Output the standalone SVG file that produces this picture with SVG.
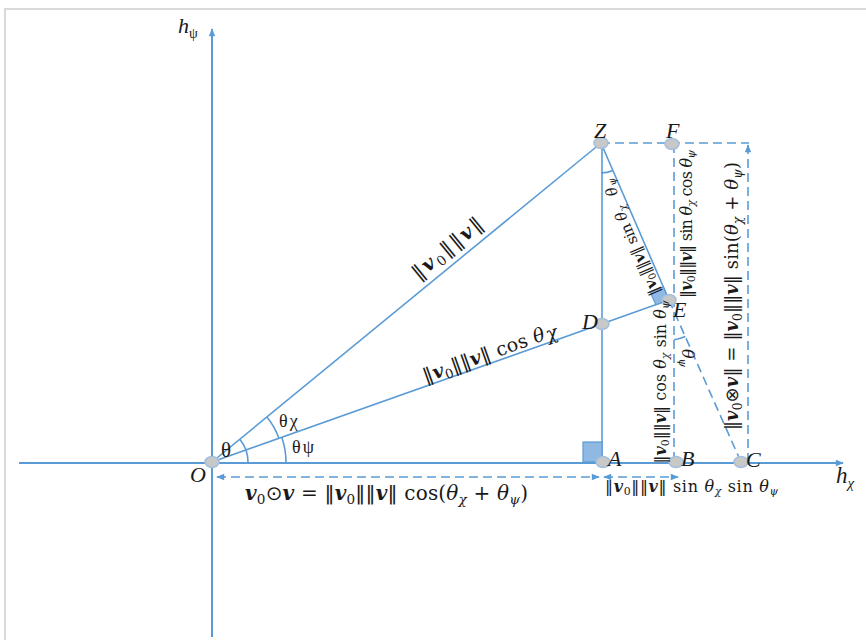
<svg xmlns="http://www.w3.org/2000/svg" width="866" height="640" viewBox="0 0 866 640">
<style>
.ln{stroke:#5b9bd5;stroke-width:1.6;fill:none}
.ax{stroke:#5b9bd5;stroke-width:2;fill:none}
.ds{stroke:#5b9bd5;stroke-width:1.6;fill:none;stroke-dasharray:9 5}
.pt{fill:#c8c8c8;stroke:#a3bfdd;stroke-width:1.5}
.ra{fill:#8fb9e3;stroke:#5b9bd5;stroke-width:1.2}
text{font-family:"Liberation Serif","DejaVu Serif",serif;fill:#1a1a1a}
.fm{font-family:"DejaVu Serif","Liberation Serif",serif}
.lb{font-style:italic;font-size:22px}
.bv{font-weight:bold;font-style:italic}
.it{font-style:italic}
.sb{font-size:68%}
.n{font-family:"DejaVu Sans",sans-serif;font-weight:normal;font-style:normal}
.frame{stroke:#d9d9d9;stroke-width:2;fill:none}
</style>
<defs>
<marker id="ah" viewBox="0 0 10 10" refX="9" refY="5" markerWidth="9" markerHeight="8" orient="auto-start-reverse" markerUnits="userSpaceOnUse"><path d="M0,1 L10,5 L0,9 z" fill="#5b9bd5"/></marker>
</defs>
<rect width="866" height="640" fill="#fff"/>
<path class="frame" d="M5,640 V9 H866"/>

<g id="connectors">
<line class="ax" x1="212" y1="637" x2="212" y2="29" marker-end="url(#ah)"/>
<line class="ax" x1="19" y1="463" x2="843" y2="463" marker-end="url(#ah)"/>
<line class="ln" x1="212" y1="462" x2="601" y2="143"/>
<line class="ln" x1="212" y1="462" x2="669" y2="300"/>
<line class="ln" x1="602" y1="143" x2="602" y2="462"/>
<line class="ln" x1="601" y1="143" x2="669" y2="300"/>
<line class="ds" x1="669" y1="300" x2="741" y2="462"/>
<line class="ds" x1="601" y1="143" x2="749" y2="143"/>
<line class="ds" x1="674" y1="144" x2="674" y2="462"/>
<line class="ds" x1="748" y1="462" x2="748" y2="145" marker-end="url(#ah)"/>
<line class="ds" x1="217" y1="477" x2="599" y2="477" marker-start="url(#ah)" marker-end="url(#ah)"/>
<line class="ds" x1="604" y1="477" x2="678" y2="477" marker-start="url(#ah)" marker-end="url(#ah)"/>
<rect class="ra" x="583" y="442" width="19" height="20"/>
<polygon class="ra" points="669,300 663.4,287.1 650.2,291.8 655.8,304.7"/>
<path class="ln" d="M248,462 A36,36 0 0 0 239.8,439.2"/>
<path class="ln" d="M278.9,438.2 A71,71 0 0 0 266.9,417"/>
<path class="ln" d="M286,462 A74,74 0 0 0 281.7,437.2"/>
<path class="ln" d="M601,173 A30,30 0 0 0 612.9,170.5"/>
<path class="ln" d="M674,339.7 A40,40 0 0 0 685.3,336.5"/>
</g>

<g id="labels-axes">
<text x="178" y="33" font-size="22" class="it">h<tspan font-size="14" dy="5" font-style="normal">ψ</tspan></text>
<text x="836" y="483" font-size="23" class="it">h<tspan font-size="15" dy="5">χ</tspan></text>
</g>

<g id="node-O"><ellipse class="pt" cx="212" cy="462" rx="7" ry="5.5"/><text class="lb" x="190" y="482">O</text></g>
<g id="node-Z"><ellipse class="pt" cx="601" cy="143" rx="7" ry="5.5"/><text class="lb" x="594" y="138">Z</text></g>
<g id="node-F"><ellipse class="pt" cx="672" cy="144" rx="7" ry="5.5"/><text class="lb" x="666" y="138">F</text></g>
<g id="node-E"><ellipse class="pt" cx="669" cy="300" rx="7" ry="5.5"/><text class="lb" x="673" y="317">E</text></g>
<g id="node-D"><ellipse class="pt" cx="602" cy="324" rx="7" ry="5.5"/><text class="lb" x="582" y="329">D</text></g>
<g id="node-A"><ellipse class="pt" cx="603" cy="462" rx="7" ry="5.5"/><text class="lb" x="608" y="466">A</text></g>
<g id="node-B"><ellipse class="pt" cx="676" cy="462" rx="7" ry="5.5"/><text class="lb" x="681" y="466">B</text></g>
<g id="node-C"><ellipse class="pt" cx="741" cy="462" rx="7" ry="5.5"/><text class="lb" x="746" y="467">C</text></g>

<g id="angle-labels">
<text x="221" y="457" font-size="21">θ</text>
<text x="279" y="427" font-size="18">θ<tspan dx="2">χ</tspan></text>
<text x="292" y="453" font-size="18">θ<tspan dx="2">ψ</tspan></text>
<text class="fm" transform="translate(614.8,186) rotate(-113.4)" text-anchor="middle" font-size="15" font-style="italic">θ<tspan class="sb" dy="3">ψ</tspan></text>
<text class="fm" transform="translate(682,358) rotate(90)" text-anchor="middle" font-size="16" font-style="italic">θ<tspan class="sb" dy="3">ψ</tspan></text>
</g>

<g id="length-labels">
<text class="fm" transform="translate(451.5,253.5) rotate(-39.4)" text-anchor="middle" font-size="20" textLength="85"><tspan class="n">‖</tspan><tspan class="bv">v</tspan><tspan class="sb" dy="4">0</tspan><tspan class="n" dy="-4">‖‖</tspan><tspan class="bv">v</tspan><tspan class="n">‖</tspan></text>
<text class="fm" transform="translate(492,359) rotate(-19.57)" text-anchor="middle" font-size="19" textLength="141"><tspan class="n">‖</tspan><tspan class="bv">v</tspan><tspan class="sb" dy="4">0</tspan><tspan class="n" dy="-4">‖‖</tspan><tspan class="bv">v</tspan><tspan class="n">‖</tspan> cos <tspan class="it">θ</tspan><tspan class="it" dx="1" dy="2">χ</tspan></text>
<text class="fm" transform="translate(641,249) rotate(-113.4)" text-anchor="middle" font-size="15" textLength="96"><tspan class="n">‖</tspan><tspan class="bv">v</tspan><tspan class="sb" dy="3">0</tspan><tspan class="n" dy="-3">‖‖</tspan><tspan class="bv">v</tspan><tspan class="n">‖</tspan> sin <tspan class="it">θ</tspan><tspan class="it sb" dy="3">χ</tspan></text>
<text class="fm" transform="translate(692,224) rotate(-90)" text-anchor="middle" font-size="16" textLength="148"><tspan class="n">‖</tspan><tspan class="bv">v</tspan><tspan class="sb" dy="3">0</tspan><tspan class="n" dy="-3">‖‖</tspan><tspan class="bv">v</tspan><tspan class="n">‖</tspan> sin <tspan class="it">θ</tspan><tspan class="it sb" dy="3">χ</tspan><tspan dy="-3"> cos </tspan><tspan class="it">θ</tspan><tspan class="it sb" dy="3">ψ</tspan></text>
<text class="fm" transform="translate(666,382) rotate(-90)" text-anchor="middle" font-size="16" textLength="163"><tspan class="n">‖</tspan><tspan class="bv">v</tspan><tspan class="sb" dy="3">0</tspan><tspan class="n" dy="-3">‖‖</tspan><tspan class="bv">v</tspan><tspan class="n">‖</tspan> cos <tspan class="it">θ</tspan><tspan class="it sb" dy="3">χ</tspan><tspan dy="-3"> sin </tspan><tspan class="it">θ</tspan><tspan class="it sb" dy="3">ψ</tspan></text>
<text class="fm" transform="translate(738,296) rotate(-90)" text-anchor="middle" font-size="18" textLength="268"><tspan class="n">‖</tspan><tspan class="bv">v</tspan><tspan class="sb" dy="4">0</tspan><tspan class="n" dy="-4">⊗</tspan><tspan class="bv">v</tspan><tspan class="n">‖</tspan> = <tspan class="n">‖</tspan><tspan class="bv">v</tspan><tspan class="sb" dy="4">0</tspan><tspan class="n" dy="-4">‖‖</tspan><tspan class="bv">v</tspan><tspan class="n">‖</tspan> sin(<tspan class="it">θ</tspan><tspan class="it sb" dy="4">χ</tspan><tspan dy="-4"> + </tspan><tspan class="it">θ</tspan><tspan class="it sb" dy="4">ψ</tspan><tspan dy="-4">)</tspan></text>
<text class="fm" x="245" y="500" font-size="20" textLength="283"><tspan class="bv">v</tspan><tspan class="sb" dy="4">0</tspan><tspan class="n" dy="-4">⊙</tspan><tspan class="bv">v</tspan> = <tspan class="n">‖</tspan><tspan class="bv">v</tspan><tspan class="sb" dy="4">0</tspan><tspan class="n" dy="-4">‖‖</tspan><tspan class="bv">v</tspan><tspan class="n">‖</tspan> cos(<tspan class="it">θ</tspan><tspan class="it sb" dy="4">χ</tspan><tspan dy="-4"> + </tspan><tspan class="it">θ</tspan><tspan class="it sb" dy="4">ψ</tspan><tspan dy="-4">)</tspan></text>
<text class="fm" x="605" y="492" font-size="16" textLength="173"><tspan class="n">‖</tspan><tspan class="bv">v</tspan><tspan class="sb" dy="3">0</tspan><tspan class="n" dy="-3">‖‖</tspan><tspan class="bv">v</tspan><tspan class="n">‖</tspan> sin <tspan class="it">θ</tspan><tspan class="it sb" dy="3">χ</tspan><tspan dy="-3"> sin </tspan><tspan class="it">θ</tspan><tspan class="it sb" dy="3">ψ</tspan></text>
</g>
</svg>
